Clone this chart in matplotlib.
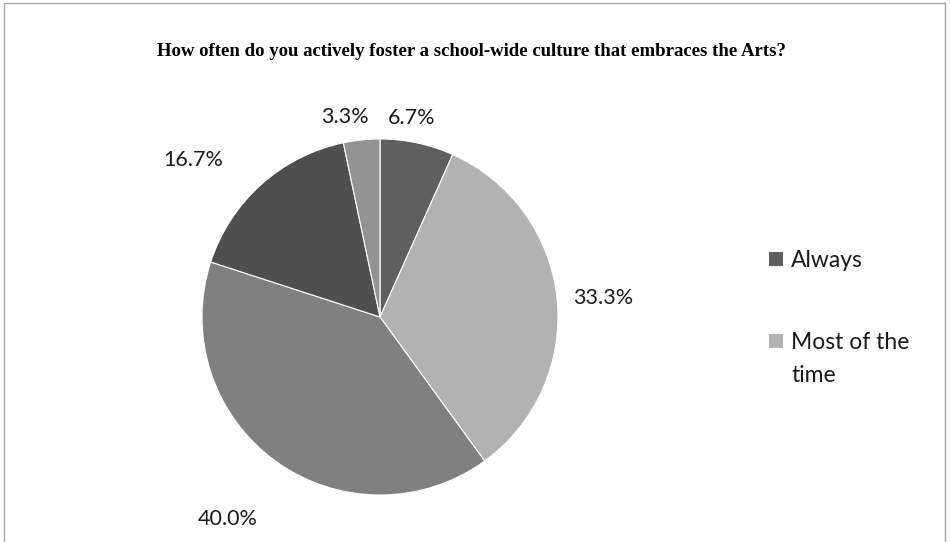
import numpy as np
import matplotlib.pyplot as plt
from matplotlib.patches import Rectangle

categories = ["Always", "Most of the time", "Sometimes", "Rarely", "Never"]
shares = [6.7, 33.3, 40.0, 16.7, 3.3]
legend_labels = ["Always", "Most of the\ntime"]
colors = ["#5f5f5f", "#b2b2b2", "#808080", "#4f4f4f", "#939393"]

# where each percent label sits: distance from centre (radii) and angle nudge (deg)
label_dist = [1.13, 1.26, 1.42, 1.37, 1.14]
label_nudge = [3, -1, -1, 8, 4]

W, H = 950, 542
fig = plt.figure(figsize=(W / 100, H / 100), dpi=100)

# pie centred at (380, 317) px with a 178 px radius
cx, cy, r = 380, 317, 178
ax = fig.add_axes([(cx - r) / W, (H - cy - r) / H, 2 * r / W, 2 * r / H])
wedges, _ = ax.pie(shares, colors=colors, startangle=90, counterclock=False,
                   wedgeprops=dict(edgecolor="white", linewidth=0.8))
ax.set_xlim(-1, 1)
ax.set_ylim(-1, 1)
ax.set_aspect("equal")

for w, val, d, nudge in zip(wedges, shares, label_dist, label_nudge):
    mid = np.deg2rad((w.theta1 + w.theta2) / 2 + nudge)
    ax.text(d * np.cos(mid), d * np.sin(mid), f"{val:.1f}%",
            ha="center", va="center", fontsize=15.5, family="Lato",
            color="#1a1a1a", clip_on=False)

fig.text(471 / W, (H - 52) / H,
         "How often do you actively foster a school-wide culture that embraces the Arts?",
         ha="center", va="center", fontsize=13.5, fontweight="bold",
         family="Liberation Serif")

# legend: square key lined up with the first line of each label
legend_y = [259, 341]
for i, (lab, ly) in enumerate(zip(legend_labels, legend_y)):
    fig.patches.append(Rectangle((769 / W, (H - ly - 7) / H), 14 / W, 14 / H,
                                 transform=fig.transFigure,
                                 facecolor=colors[i], edgecolor="none"))
    fig.text(791 / W, (H - ly + 9) / H, lab, ha="left", va="top",
             fontsize=16.5, family="Lato", color="#1a1a1a", linespacing=1.68)

fig.patches.append(Rectangle((4 / W, -0.05), 941 / W, 1.05 - 3 / H,
                             transform=fig.transFigure, fill=False,
                             edgecolor="#a6a6a6", linewidth=1))

fig.savefig("out.png", dpi=100)
